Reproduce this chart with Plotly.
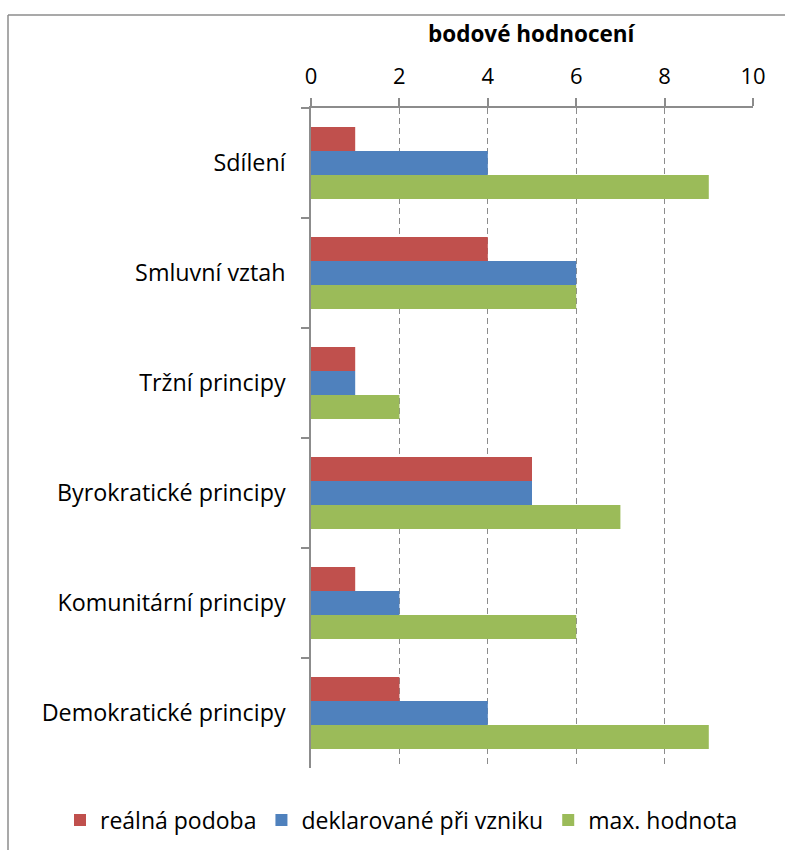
import plotly.graph_objects as go

categories = ["Sdílení", "Smluvní vztah", "Tržní principy", "Byrokratické principy",
              "Komunitární principy", "Demokratické principy"]
realna = [1, 4, 1, 5, 1, 2]
deklarovane = [4, 6, 1, 5, 2, 4]
max_hodnota = [9, 6, 2, 7, 6, 9]
series_names = ["reálná podoba", "deklarované při vzniku", "max. hodnota"]
colors = ["#C0504D", "#4F81BD", "#9BBB59"]
x_ticks = [0, 2, 4, 6, 8, 10]

FONT = "Open Sans"
fig = go.Figure()
for name, vals, col in zip(series_names, [realna, deklarovane, max_hodnota], colors):
    fig.add_trace(go.Bar(y=categories, x=vals, name=name, orientation="h",
                         marker=dict(color=col, line=dict(width=0))))

W, H = 785, 850
L, R, T, B = 311, 32, 108, 82
pw, ph = W - L - R, H - T - B

def px(x):
    return (x - L) / pw

def py(y):
    return (H - B - y) / ph

axis_col = "#8C8C8C"
fig.update_layout(
    width=W, height=H,
    margin=dict(l=L, r=R, t=T, b=B, autoexpand=False),
    paper_bgcolor="white", plot_bgcolor="white",
    barmode="group", bargap=0.345, bargroupgap=0,
    font=dict(family=FONT, color="black"),
    showlegend=True,
    legend=dict(orientation="h", xref="paper", yref="paper",
                x=px(60), y=py(820), xanchor="left", yanchor="middle",
                font=dict(size=23, family=FONT), tracegroupgap=0),
    xaxis=dict(side="top", range=[0, 10], tickvals=x_ticks, ticktext=[str(v) for v in x_ticks],
               showgrid=True, gridcolor=axis_col, griddash="6px,4px", gridwidth=1.2,
               showline=True, linecolor=axis_col, linewidth=1.5,
               ticks="outside", ticklen=8, tickcolor=axis_col, tickwidth=1.5,
               tickfont=dict(size=22, family=FONT), zeroline=False, ticklabelstandoff=5,
               automargin=False),
    yaxis=dict(autorange="reversed", showgrid=False, showline=True, linecolor=axis_col,
               linewidth=1.5, ticks="outside", ticklen=8, tickcolor=axis_col, tickwidth=1.5,
               tickson="boundaries", tickfont=dict(size=23.3, family=FONT),
               ticklabelstandoff=19, automargin=False),
    annotations=[dict(text="<b>bodové hodnocení</b>", x=0.5, y=py(33), xref="paper",
                      yref="paper", xanchor="center", yanchor="middle", showarrow=False,
                      font=dict(size=22.5, family=FONT))],
    shapes=[
        dict(type="line", xref="paper", yref="paper", x0=px(8), x1=px(8), y0=py(15), y1=py(850),
             line=dict(color="#8C8C8C", width=1.5)),
        dict(type="line", xref="paper", yref="paper", x0=px(8), x1=px(785), y0=py(15), y1=py(15),
             line=dict(color="#8C8C8C", width=1.5)),
    ],
)
fig.write_html("out.html", config={"displayModeBar": False},
               post_script="document.body.style.margin='0';document.body.style.overflow='hidden';")
